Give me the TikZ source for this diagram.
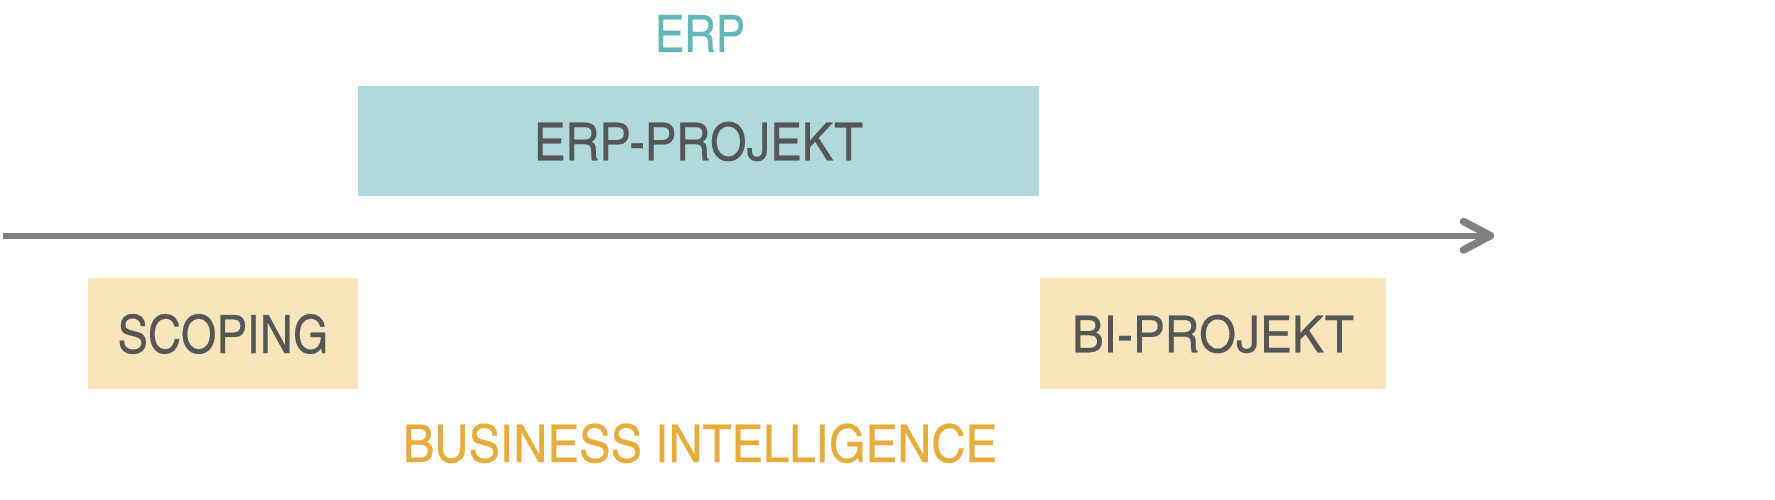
\documentclass[tikz,border=0pt]{standalone}
\usepackage{fontspec}
\setmainfont{texgyreheroscn-regular.otf}[FakeBold=0.3]
\usepackage{graphicx}
\definecolor{tealtext}{RGB}{99,183,185}
\definecolor{tealbox}{RGB}{175,217,218}
\definecolor{orangebox}{RGB}{249,229,187}
\definecolor{orangetext}{RGB}{232,172,60}
\definecolor{darktext}{RGB}{85,87,86}
\definecolor{axisgray}{RGB}{128,128,128}
\newcommand\fittext[3]{\resizebox{#1}{#2}{\setbox0\hbox{#3}\dp0=0pt \box0}}
\begin{document}
\begin{tikzpicture}[x=1pt,y=-1pt,
  phasebox/.style={fill=#1,draw=none,inner sep=0pt,text=darktext},
  label/.style={inner sep=0pt},
  axis/.style={draw=axisgray,line width=6pt},
  barb/.style={draw=axisgray,line width=7.5pt,line cap=round,line join=round}]
\useasboundingbox (0,0) rectangle (1775,500);
% boxes
\node[phasebox=tealbox,minimum width=681pt,minimum height=110pt] (erpbox) at (698.5,141) {\fittext{329pt}{38.5pt}{ERP-PROJEKT}};
\node[phasebox=orangebox,minimum width=270pt,minimum height=111pt] (scoping) at (223,333.5) {\fittext{211pt}{39pt}{SCOPING}};
\node[phasebox=orangebox,minimum width=346pt,minimum height=111pt] (bibox) at (1213,333.5) {\fittext{282pt}{37.5pt}{BI-PROJEKT}};
% labels
\node[label,text=tealtext] (erplabel) at (700,33.5) {\fittext{90pt}{37pt}{ERP}};
\node[label,text=orangetext] (bilabel) at (700,442.8) {\fittext{594pt}{38.5pt}{BUSINESS INTELLIGENCE}};
% time axis
\coordinate (axstart) at (3,235.7);
\coordinate (axend) at (1488,235.7);
\coordinate (tip) at (1490.5,235.7);
\coordinate (armtop) at (1463.5,221.5);
\coordinate (armbot) at (1463.5,250);
\draw[axis] (axstart) -- (axend);
\draw[barb] (armtop) -- (tip) -- (armbot);
\end{tikzpicture}
\end{document}
